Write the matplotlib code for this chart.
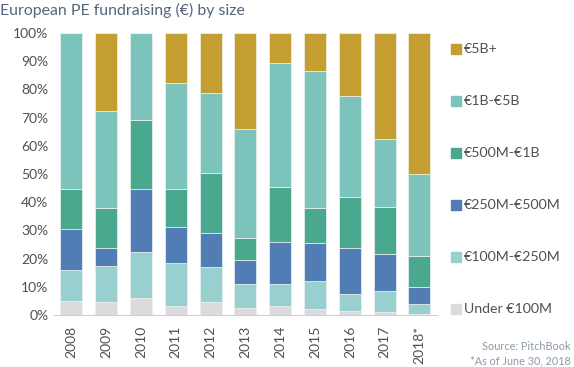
import numpy as np
import matplotlib.pyplot as plt

plt.rcParams['font.family'] = ['Lato', 'DejaVu Sans']

years = ['2008', '2009', '2010', '2011', '2012', '2013',
         '2014', '2015', '2016', '2017', '2018*']

# share of capital raised by fund size (%), bottom to top
under_100m = [5.0, 4.5, 6.1, 3.0, 4.5, 2.4, 3.3, 2.0, 1.5, 1.1, 0.3]
m100_250 = [10.9, 12.7, 16.3, 15.5, 12.4, 8.5, 7.6, 10.0, 5.9, 7.2, 3.7]
m250_500 = [14.4, 6.4, 22.3, 12.7, 12.1, 8.6, 14.8, 13.4, 16.2, 13.2, 6.0]
m500_1b = [14.4, 14.4, 24.6, 13.5, 21.2, 7.9, 19.8, 12.6, 18.2, 16.9, 11.0]
b1_5 = [55.3, 34.5, 30.7, 37.5, 28.7, 38.7, 43.9, 48.4, 35.7, 23.9, 28.9]
b5_plus = [0.0, 27.5, 0.0, 17.8, 21.1, 33.9, 10.6, 13.6, 22.5, 37.7, 50.1]

series = [under_100m, m100_250, m250_500, m500_1b, b1_5, b5_plus]
labels = ['Under €100M', '€100M-€250M', '€250M-€500M',
          '€500M-€1B', '€1B-€5B', '€5B+']
colors = ['#DCDADC', '#98CFCF', '#527DB4', '#4AA88F', '#7CC3BC', '#C49E31']

fig = plt.figure(figsize=(5.74, 3.67), dpi=100)
ax = fig.add_axes([0.094, 0.142, 0.667, 0.768])

x = np.arange(len(years))
bottom = np.zeros(len(years))
handles = []
for vals, lab, col in zip(series, labels, colors):
    vals = np.array(vals)
    b = ax.bar(x, vals, 0.63, bottom=bottom, color=col,
               edgecolor='#EEF3F2', linewidth=0.5, label=lab)
    handles.append(b)
    bottom += vals

ax.set_xlim(-0.5, 10.5)
ax.set_ylim(0, 100)
ax.set_yticks(np.arange(0, 101, 10))
ax.set_yticklabels(['{}%'.format(v) for v in range(0, 101, 10)])
ax.set_xticks(x)
ax.set_xticklabels(years, rotation=90)
ax.tick_params(length=0, labelsize=10, colors='#505050', pad=4)
ax.tick_params(axis='x', pad=8)
for s in ['top', 'right', 'left']:
    ax.spines[s].set_visible(False)
ax.spines['bottom'].set_color('#D0D0D0')

# legend, top entry first
ys = [49, 101, 153, 205, 257, 309]
for h, lab, col, yp in zip(handles[::-1], labels[::-1], colors[::-1], ys):
    fy = 1 - yp / 367
    fig.patches.append(plt.Rectangle((451 / 574, fy - 5 / 367), 10 / 574, 10 / 367,
                                     color=col, transform=fig.transFigure))
    fig.text(464 / 574, fy, lab, fontsize=10.2, color='#505050', va='center')

fig.text(0.0, 1 - 10 / 367, 'European PE fundraising (€) by size',
         fontsize=11.4, color='#53657C', va='center')
fig.text(571 / 574, 1 - 347 / 367, 'Source: PitchBook', fontsize=7.8,
         color='#8C9AA8', ha='right', va='center')
fig.text(571 / 574, 1 - 361 / 367, '*As of June 30, 2018', fontsize=7.8,
         color='#8C9AA8', ha='right', va='center')

fig.savefig('out.png', dpi=100)
